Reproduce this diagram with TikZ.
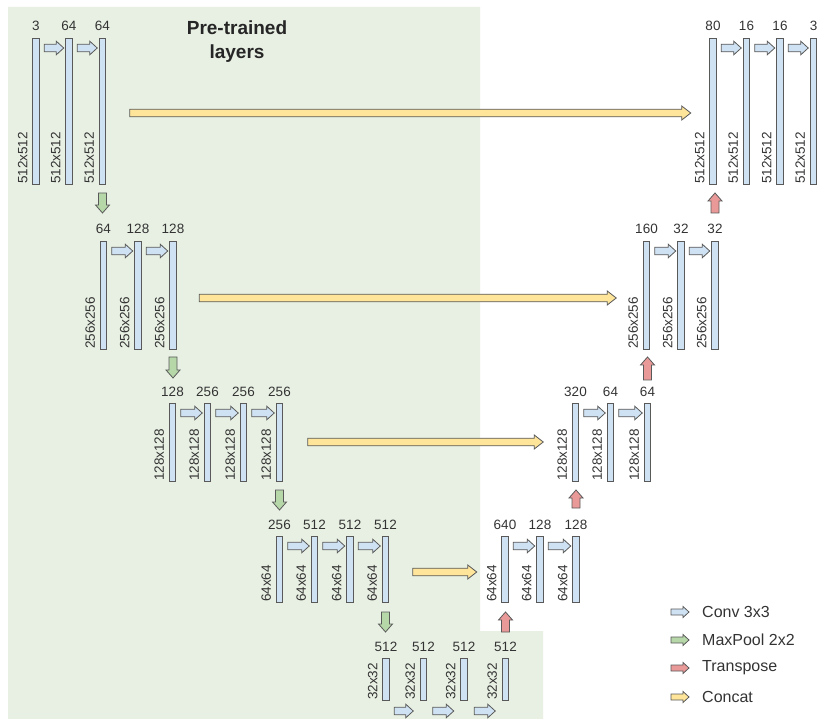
\documentclass[tikz,border=0pt]{standalone}
\usepackage{fontspec}
\setmainfont{Liberation Sans}
\usetikzlibrary{calc}
\definecolor{bg}{RGB}{232,240,227}
\definecolor{barfill}{HTML}{CFE2F3}
\definecolor{edge}{HTML}{595959}
\definecolor{poolfill}{HTML}{B6D7A8}
\definecolor{transfill}{HTML}{EA9999}
\definecolor{catfill}{HTML}{FFE599}
\definecolor{txt}{HTML}{333333}
\tikzset{
  bar/.style={draw=edge, fill=barfill, line width=0.8pt, minimum width=6.5pt, inner sep=0pt, outer sep=0pt},
  num/.style={text=txt, font=\fontsize{13.5}{15}\selectfont, inner sep=0pt, anchor=base},
  dimlab/.style={text=txt, font=\fontsize{13.5}{15}\selectfont, rotate=90, anchor=south west, inner sep=0pt},
  arrowline/.style={draw=edge, line width=0.8pt, line join=miter},
  legtext/.style={text=txt, font=\fontsize{16}{18}\selectfont, inner sep=0pt, anchor=west},
  titletext/.style={text=black!85, font=\bfseries\fontsize{19}{24}\selectfont, align=center, inner sep=0pt}
}
% right-pointing block arrow: tail, tip, fill, shaft half, head half, head length
\newcommand\rarr[6]{\path[arrowline,fill=#3] let \p1=#1, \p2=#2 in
  (\x1,{\y1+#4}) -- ({\x2-#6},{\y1+#4}) -- ({\x2-#6},{\y1+#5}) -- (\x2,\y1)
  -- ({\x2-#6},{\y1-#5}) -- ({\x2-#6},{\y1-#4}) -- (\x1,{\y1-#4}) -- cycle;}
% down-pointing block arrow
\newcommand\darr[6]{\path[arrowline,fill=#3] let \p1=#1, \p2=#2 in
  ({\x1-#4},\y1) -- ({\x1-#4},{\y2+#6}) -- ({\x1-#5},{\y2+#6}) -- (\x1,\y2)
  -- ({\x1+#5},{\y2+#6}) -- ({\x1+#4},{\y2+#6}) -- ({\x1+#4},\y1) -- cycle;}
% up-pointing block arrow
\newcommand\uarr[6]{\path[arrowline,fill=#3] let \p1=#1, \p2=#2 in
  ({\x1-#4},\y1) -- ({\x1-#4},{\y2-#6}) -- ({\x1-#5},{\y2-#6}) -- (\x1,\y2)
  -- ({\x1+#5},{\y2-#6}) -- ({\x1+#4},{\y2-#6}) -- ({\x1+#4},\y1) -- cycle;}
% bar: name, x centre, y top, y bottom, top number, size label
\newcommand\mkbar[6]{%
  \node[bar, minimum height={(#4-#3)*1pt}, anchor=north] (#1) at (#2,#3) {};
  \node[num] (#1t) at ($(#1.north)+(0,-7)$) {#5};
  \node[dimlab] (#1d) at ($(#1.south west)+(-5,0)$) {#6};}
\newcommand\conv[2]{\rarr{($(#1.north east)+(5,10)$)}{($(#2.north west)+(-2,10)$)}{barfill}{3.8pt}{6.8pt}{7.5pt}}
\newcommand\cat[4]{\rarr{($(#1.north east)+(#3,#4)$)}{($(#2.north west)+(-19,#4)$)}{catfill}{3.8pt}{7pt}{9pt}}
\begin{document}
\begin{tikzpicture}[x=1pt,y=-1pt]
\useasboundingbox (0,0) rectangle (817,719);
\fill[bg] (8,7) -- (480,7) -- (480,631) -- (543,631) -- (543,719) -- (8,719) -- cycle;
\node[titletext] (title) at (237,42) {Pre-trained\\layers};

% level 1
\mkbar{L1a}{36}{38}{184}{3}{512x512}
\mkbar{L1b}{69}{38}{184}{64}{512x512}
\mkbar{L1c}{102.5}{38}{184}{64}{512x512}
\mkbar{R1a}{713}{38}{184}{80}{512x512}
\mkbar{R1b}{746.5}{38}{184}{16}{512x512}
\mkbar{R1c}{780}{38}{184}{16}{512x512}
\mkbar{R1d}{813.5}{38}{184}{3}{512x512}
% level 2
\mkbar{L2a}{103.5}{241}{349}{64}{256x256}
\mkbar{L2b}{138}{241}{349}{128}{256x256}
\mkbar{L2c}{173}{241}{349}{128}{256x256}
\mkbar{R2a}{646.5}{241}{349}{160}{256x256}
\mkbar{R2b}{681}{241}{349}{32}{256x256}
\mkbar{R2c}{715}{241}{349}{32}{256x256}
% level 3
\mkbar{L3a}{172.5}{403}{481}{128}{128x128}
\mkbar{L3b}{207.5}{403}{481}{256}{128x128}
\mkbar{L3c}{243.5}{403}{481}{256}{128x128}
\mkbar{L3d}{279.5}{403}{481}{256}{128x128}
\mkbar{R3a}{575.5}{403}{481}{320}{128x128}
\mkbar{R3b}{610.5}{403}{481}{64}{128x128}
\mkbar{R3c}{647.5}{403}{481}{64}{128x128}
% level 4
\mkbar{L4a}{279.5}{536}{602}{256}{64x64}
\mkbar{L4b}{314.5}{536}{602}{512}{64x64}
\mkbar{L4c}{350}{536}{602}{512}{64x64}
\mkbar{L4d}{385.5}{536}{602}{512}{64x64}
\mkbar{R4a}{505}{536}{602}{640}{64x64}
\mkbar{R4b}{540}{536}{602}{128}{64x64}
\mkbar{R4c}{576}{536}{602}{128}{64x64}
% level 5
\mkbar{L5a}{386}{658}{700}{512}{32x32}
\mkbar{L5b}{423.5}{658}{700}{512}{32x32}
\mkbar{L5c}{464}{658}{700}{512}{32x32}
\mkbar{L5d}{505.5}{658}{700}{512}{32x32}

% conv arrows
\conv{L1a}{L1b}\conv{L1b}{L1c}
\conv{R1a}{R1b}\conv{R1b}{R1c}\conv{R1c}{R1d}
\conv{L2a}{L2b}\conv{L2b}{L2c}
\conv{R2a}{R2b}\conv{R2b}{R2c}
\conv{L3a}{L3b}\conv{L3b}{L3c}\conv{L3c}{L3d}
\conv{R3a}{R3b}\conv{R3b}{R3c}
\conv{L4a}{L4b}\conv{L4b}{L4c}\conv{L4c}{L4d}
\conv{R4a}{R4b}\conv{R4b}{R4c}
\rarr{($(L5a.south east)+(5,11)$)}{($(L5b.south west)+(-7,11)$)}{barfill}{3.8pt}{6.8pt}{7.5pt}
\rarr{($(L5b.south east)+(6,11)$)}{($(L5c.south west)+(-7,11)$)}{barfill}{3.8pt}{6.8pt}{7.5pt}
\rarr{($(L5c.south east)+(7,11)$)}{($(L5d.south west)+(-7,11)$)}{barfill}{3.8pt}{6.8pt}{7.5pt}

% maxpool arrows
\darr{($(L1c.south)+(0,9)$)}{($(L2a.north)+(0,-28)$)}{poolfill}{4pt}{7pt}{8pt}
\darr{($(L2c.south)+(0,8)$)}{($(L3a.north)+(0,-25)$)}{poolfill}{4pt}{7pt}{8pt}
\darr{($(L3d.south)+(0,9)$)}{($(L4a.north)+(0,-26)$)}{poolfill}{4pt}{7pt}{8pt}
\darr{($(L4d.south)+(0,10)$)}{($(L5a.north)+(0,-26)$)}{poolfill}{4pt}{7pt}{8pt}

% transpose arrows
\uarr{($(L5d.north)+(0,-26)$)}{($(R4a.south)+(0,10)$)}{transfill}{4pt}{7pt}{8pt}
\uarr{($(R4c.north)+(0,-28)$)}{($(R3a.south)+(0,9)$)}{transfill}{4pt}{7pt}{8pt}
\uarr{($(R3c.north)+(0,-23)$)}{($(R2a.south)+(0,8)$)}{transfill}{4pt}{7pt}{8pt}
\uarr{($(R2c.north)+(0,-28)$)}{($(R1a.south)+(0,9)$)}{transfill}{4pt}{7pt}{8pt}

% concat arrows
\rarr{($(L1c.north east)+(24,75)$)}{($(R1a.north west)+(-19,75)$)}{catfill}{3.8pt}{7pt}{9pt}
\rarr{($(L2c.north east)+(23,57)$)}{($(R2a.north west)+(-27,57)$)}{catfill}{3.8pt}{7pt}{9pt}
\rarr{($(L3d.north east)+(25,39)$)}{($(R3a.north west)+(-29,39)$)}{catfill}{3.8pt}{7pt}{9pt}
\rarr{($(L4d.north east)+(24,36)$)}{($(R4a.north west)+(-25,36)$)}{catfill}{3.8pt}{7pt}{9pt}

% legend
\coordinate (k1a) at (671,612); \coordinate (k1b) at (689,612);
\coordinate (k2a) at (671,640); \coordinate (k2b) at (689,640);
\coordinate (k3a) at (671,668); \coordinate (k3b) at (689,668);
\coordinate (k4a) at (671,697); \coordinate (k4b) at (689,697);
\rarr{(k1a)}{(k1b)}{barfill}{3pt}{5.5pt}{6pt}
\rarr{(k2a)}{(k2b)}{poolfill}{3pt}{5.5pt}{6pt}
\rarr{(k3a)}{(k3b)}{transfill}{3pt}{5.5pt}{6pt}
\rarr{(k4a)}{(k4b)}{catfill}{3pt}{5.5pt}{6pt}
\node[legtext] (t1) at (702,612) {Conv 3x3};
\node[legtext] (t2) at (702,640) {MaxPool 2x2};
\node[legtext] (t3) at (702,668) {Transpose};
\node[legtext] (t4) at (702,697) {Concat};
\end{tikzpicture}
\end{document}
